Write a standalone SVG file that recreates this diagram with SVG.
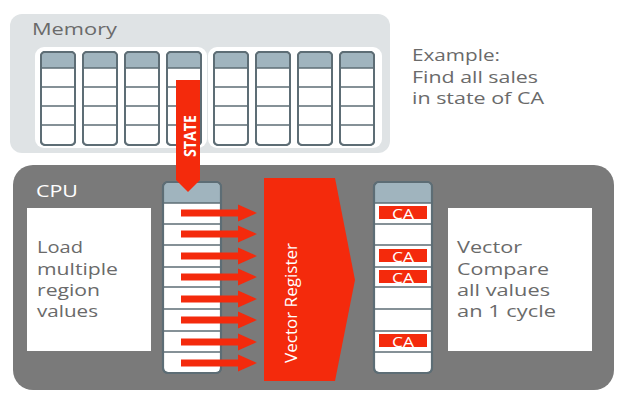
<svg xmlns="http://www.w3.org/2000/svg" width="634" height="404" viewBox="0 0 634 404">
<defs>
<style>
.t{font-family:"Open Sans","Liberation Sans",sans-serif;fill:#6a6a6a;font-size:16.5px}
.col{fill:#fff;stroke:#5d6d75;stroke-width:2}
.hd{fill:#a0b4be}
.ln{stroke:#5d6d75;stroke-width:1.6}
.red{fill:#f42a0c}
.ca{font-family:"Open Sans","Liberation Sans",sans-serif;fill:#fff;font-size:14px;text-anchor:middle}
</style>
<g id="mcol">
<rect class="col" x="0" y="0" width="34" height="93" rx="4"/>
<path class="hd" d="M1,16 V4 a3,3 0 0 1 3,-3 H30 a3,3 0 0 1 3,3 V16 Z"/>
<path class="ln" d="M0,16 H34 M0,35 H34 M0,54 H34 M0,73 H34"/>
<rect x="0" y="0" width="34" height="93" rx="4" fill="none" stroke="#5d6d75" stroke-width="2"/>
</g>
<g id="rcol">
<rect class="col" x="0" y="0" width="58" height="191" rx="5"/>
<path class="hd" d="M1,21 V5 a4,4 0 0 1 4,-4 H53 a4,4 0 0 1 4,4 V21 Z"/>
<path class="ln" d="M0,21 H58 M0,42 H58 M0,63 H58 M0,85 H58 M0,105 H58 M0,127 H58 M0,149 H58 M0,170 H58"/>
<rect x="0" y="0" width="58" height="191" rx="5" fill="none" stroke="#5d6d75" stroke-width="2.2"/>
</g>
<polygon id="arr" class="red" points="0,-3.5 57,-3.5 57,-8.5 76,0 57,8.5 57,3.5 0,3.5"/>
</defs>

<g id="memory">
<rect x="10" y="14" width="380" height="139" rx="12" fill="#dfe3e5"/>
<text class="t" x="32" y="35" font-size="18" textLength="85" lengthAdjust="spacingAndGlyphs">Memory</text>
<rect x="35" y="47" width="172" height="101" rx="9" fill="#fff"/>
<rect x="208" y="47" width="174" height="101" rx="9" fill="#fff"/>
<use href="#mcol" x="41" y="52"/>
<use href="#mcol" x="83" y="52"/>
<use href="#mcol" x="125" y="52"/>
<use href="#mcol" x="167" y="52"/>
<use href="#mcol" x="214" y="52"/>
<use href="#mcol" x="256" y="52"/>
<use href="#mcol" x="298" y="52"/>
<use href="#mcol" x="340" y="52"/>
</g>

<g id="example">
<text class="t" x="412" y="61" font-size="16" textLength="88" lengthAdjust="spacingAndGlyphs">Example:</text>
<text class="t" x="412" y="83" font-size="16" textLength="126" lengthAdjust="spacingAndGlyphs">Find all sales</text>
<text class="t" x="412" y="104" font-size="16" textLength="132" lengthAdjust="spacingAndGlyphs">in state of CA</text>
</g>

<g id="cpu">
<rect x="13" y="165" width="601" height="225" rx="20" fill="#7a7a7a"/>
<text class="t" x="36" y="197" font-size="16" style="fill:#fff" textLength="42" lengthAdjust="spacingAndGlyphs">CPU</text>
</g>

<g id="load">
<rect x="27" y="208" width="124" height="143" fill="#fff"/>
<text class="t" x="37" y="253" textLength="46" lengthAdjust="spacingAndGlyphs">Load</text>
<text class="t" x="37" y="275" textLength="81" lengthAdjust="spacingAndGlyphs">multiple</text>
<text class="t" x="37" y="296" textLength="63" lengthAdjust="spacingAndGlyphs">region</text>
<text class="t" x="37" y="317" textLength="61" lengthAdjust="spacingAndGlyphs">values</text>
</g>

<g id="left-register">
<use href="#rcol" x="163" y="182"/>
</g>

<g id="connectors">
<g id="state-arrow">
<polygon class="red" points="176,80 200,80 200,180 188,192 176,180"/>
<text transform="translate(196,136) rotate(-90)" font-family="'Open Sans','Liberation Sans',sans-serif" font-weight="bold" font-size="16" fill="#fff" text-anchor="middle" textLength="42" lengthAdjust="spacingAndGlyphs">STATE</text>
</g>
<use href="#arr" x="181" y="213"/>
<use href="#arr" x="181" y="234"/>
<use href="#arr" x="181" y="256"/>
<use href="#arr" x="181" y="277"/>
<use href="#arr" x="181" y="299"/>
<use href="#arr" x="181" y="320"/>
<use href="#arr" x="181" y="342"/>
<use href="#arr" x="181" y="363"/>
</g>

<g id="vector-register">
<polygon class="red" points="264,178 335,178 355,280 335,381 264,381"/>
<text transform="translate(297,303) rotate(-90)" font-family="'Open Sans','Liberation Sans',sans-serif" font-size="17" fill="#fff" text-anchor="middle" textLength="120" lengthAdjust="spacingAndGlyphs">Vector Register</text>
</g>

<g id="right-register">
<use href="#rcol" x="374" y="182"/>
<rect class="red" x="379" y="206" width="48" height="13"/>
<text class="ca" x="403" y="219" textLength="22" lengthAdjust="spacingAndGlyphs">CA</text>
<rect class="red" x="379" y="249" width="48" height="13"/>
<text class="ca" x="403" y="262" textLength="22" lengthAdjust="spacingAndGlyphs">CA</text>
<rect class="red" x="379" y="270" width="48" height="13"/>
<text class="ca" x="403" y="283" textLength="22" lengthAdjust="spacingAndGlyphs">CA</text>
<rect class="red" x="379" y="334" width="48" height="13"/>
<text class="ca" x="403" y="347" textLength="22" lengthAdjust="spacingAndGlyphs">CA</text>
</g>

<g id="compare">
<rect x="448" y="208" width="144" height="143" fill="#fff"/>
<text class="t" x="457" y="253" textLength="65" lengthAdjust="spacingAndGlyphs">Vector</text>
<text class="t" x="457" y="275" textLength="92" lengthAdjust="spacingAndGlyphs">Compare</text>
<text class="t" x="457" y="296" textLength="93" lengthAdjust="spacingAndGlyphs">all values</text>
<text class="t" x="457" y="317" textLength="99" lengthAdjust="spacingAndGlyphs">an 1 cycle</text>
</g>
</svg>
